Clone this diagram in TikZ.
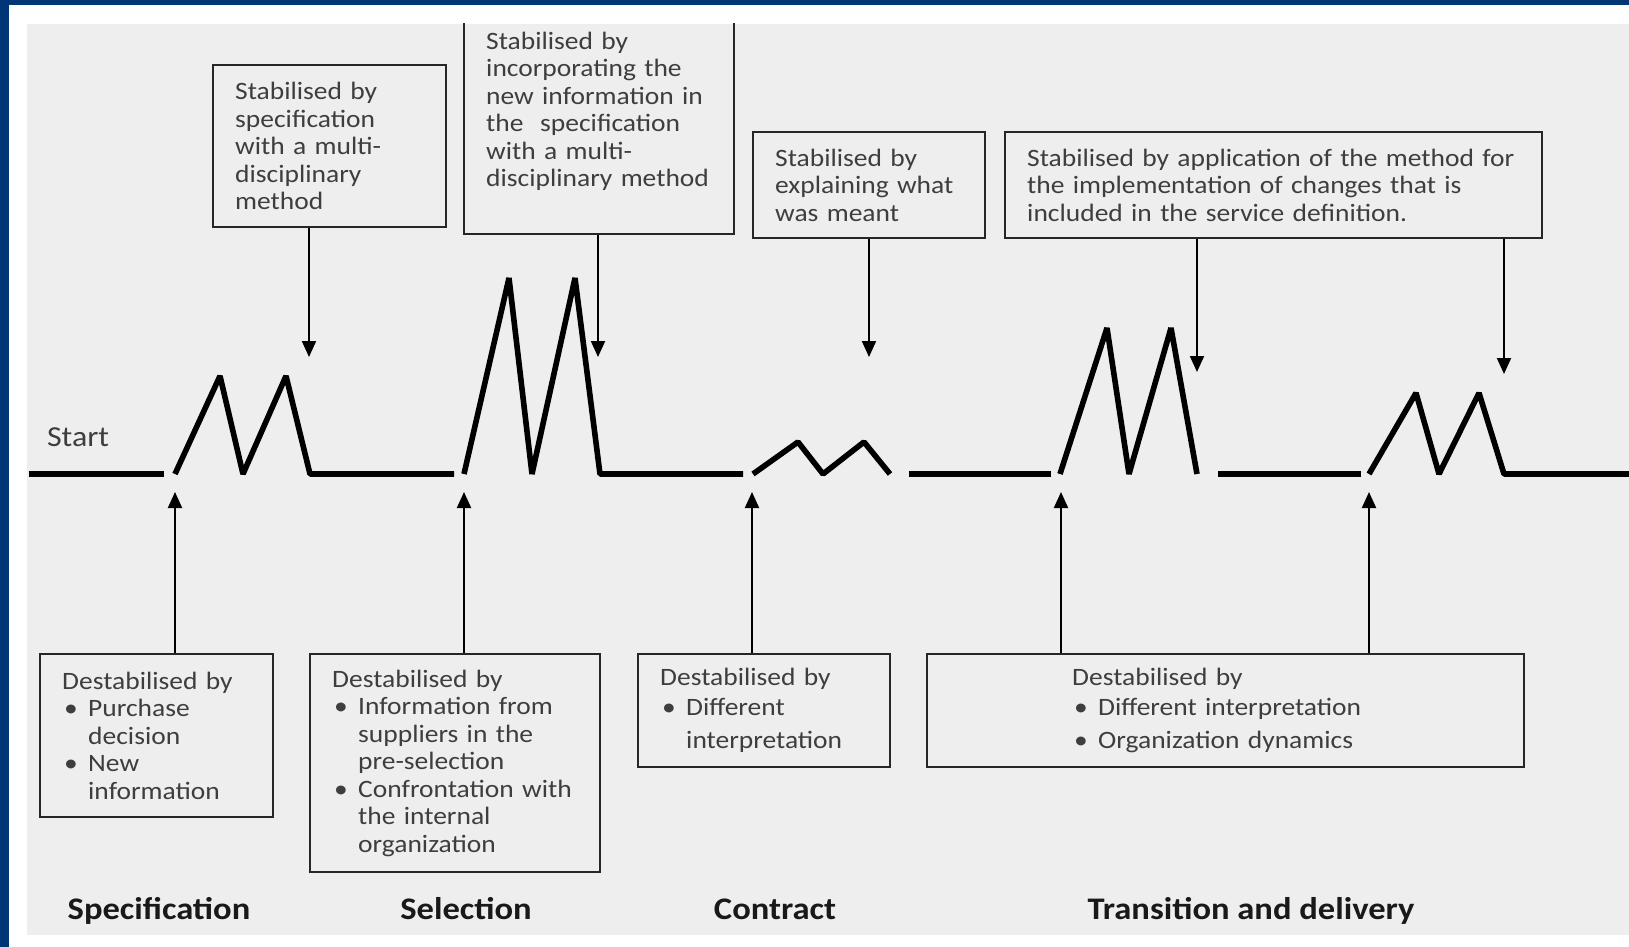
\documentclass[tikz,border=0pt]{standalone}
\usepackage{fontspec}
\setmainfont{Carlito}[FakeStretch=1.1]
\usetikzlibrary{arrows.meta}

\definecolor{frameblue}{RGB}{0,54,117}
\definecolor{panel}{RGB}{238,238,238}
\definecolor{boxtext}{RGB}{62,62,62}
\newcommand{\bul}{\makebox[13pt][l]{\hspace{1pt}\textbullet}}
\newcommand{\ind}{\hspace*{13pt}}

\begin{document}
\begin{tikzpicture}[x=0.5pt, y=-0.5pt,
  box/.style={draw=black!85, line width=1.2pt, text=boxtext, align=left,
    anchor=north west, inner xsep=11pt, font=\fontsize{12.5}{13.75}\selectfont},
  arr/.style={line width=1pt, -{Triangle[width=7pt,length=8pt]}},
  wave/.style={line width=2.8pt, line join=bevel},
  phase/.style={anchor=base, font=\fontsize{15.7}{18}\selectfont\bfseries, text=black!90}]
\useasboundingbox (0,0) rectangle (1629,947);

% frame
\fill[frameblue] (0,0) rectangle (1629,947);
\fill[white] (9,5) rectangle (1629,947);
\fill[panel] (27,24) rectangle (1629,935);

\begin{scope}
\clip (27,24) rectangle (1629,935);

% the process line
\draw[wave] (29,474) -- (164,474);
\draw[wave] (175,474) -- (220,376) -- (243,474) -- (286,376) -- (310,474) -- (454,474);
\draw[wave] (464,474) -- (509,278) -- (532,474) -- (575,278) -- (600,474) -- (743,474);
\draw[wave] (753,474) -- (798,442) -- (823,474) -- (864,442) -- (890,474);
\draw[wave] (909,474) -- (1051,474);
\draw[wave] (1060,474) -- (1107,328) -- (1129,474) -- (1171,328) -- (1197,474);
\draw[wave] (1218,474) -- (1361,474);
\draw[wave] (1369,474) -- (1416,393) -- (1439,474) -- (1479,393) -- (1504,474) -- (1629,474);

\node[anchor=west, text=boxtext, font=\fontsize{14.5}{16}\selectfont] (start) at (40,437) {Start};

% stabilising
\node[box, text width=94.5pt, minimum height=81pt] (stab1) at (212,64)
  {Stabilised by\\specification\\with a multi-\\disciplinary\\method};
\node[box, text width=113pt, minimum height=123pt] (stab2) at (463,-13)
  {Stabilised by\\incorporating the\\new information in\\the\ \ specification\\with a multi-\\disciplinary method};
\node[box, text width=94pt, minimum height=53pt] (stab3) at (752,131)
  {Stabilised by\\explaining what\\was meant};
\node[box, text width=246.5pt, minimum height=53pt] (stab4) at (1004,131)
  {Stabilised by application of the method for\\the implementation of changes that is\\included in the service definition.};

% destabilising
\node[box, text width=94.5pt, minimum height=81.5pt] (destab1) at (39,653)
  {Destabilised by\\\bul Purchase\\\ind decision\\\bul New\\\ind information};
\node[box, text width=123pt, minimum height=109pt] (destab2) at (309,653)
  {Destabilised by\\\bul Information from\\\ind suppliers in the\\\ind pre-selection\\\bul Confrontation with\\\ind the internal\\\ind organization};
\node[box, text width=104pt, minimum height=56.5pt] (destab3) at (637,653)
  {Destabilised by\\[1pt]\bul Different\\[3pt]\ind interpretation};
\node[box, text width=153.5pt, inner xsep=72.5pt, minimum height=56.5pt] (destab4) at (926,653)
  {Destabilised by\\[1pt]\bul Different interpretation\\[3pt]\bul Organization dynamics};

% arrow tips
\coordinate (d1) at (309,357);
\coordinate (d2) at (598,357);
\coordinate (d3) at (869,357);
\coordinate (d4) at (1197,372);
\coordinate (d5) at (1504,374);
\coordinate (u1) at (175,492);
\coordinate (u2) at (464,492);
\coordinate (u3) at (752,492);
\coordinate (u4) at (1061,492);
\coordinate (u5) at (1369,492);

\draw[arr] (stab1.south -| d1) -- (d1);
\draw[arr] (stab2.south -| d2) -- (d2);
\draw[arr] (stab3.south -| d3) -- (d3);
\draw[arr] (stab4.south -| d4) -- (d4);
\draw[arr] (stab4.south -| d5) -- (d5);
\draw[arr] (destab1.north -| u1) -- (u1);
\draw[arr] (destab2.north -| u2) -- (u2);
\draw[arr] (destab3.north -| u3) -- (u3);
\draw[arr] (destab4.north -| u4) -- (u4);
\draw[arr] (destab4.north -| u5) -- (u5);

% phases
\node[phase] (spec) at (159,919) {Specification};
\node[phase] (sel) at (466,919) {Selection};
\node[phase] (con) at (775,919) {Contract};
\node[phase] (trans) at (1251,919) {Transition and delivery};
\end{scope}
\end{tikzpicture}
\end{document}
